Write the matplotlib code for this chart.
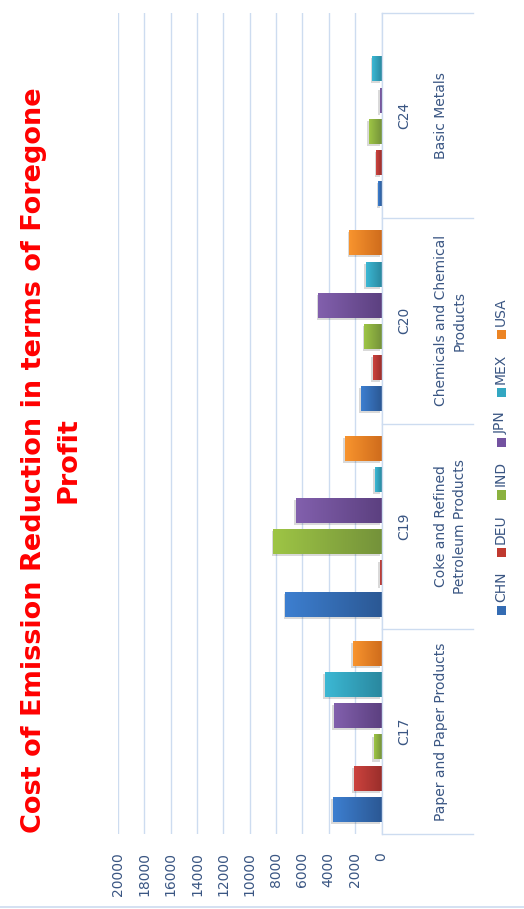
import numpy as np
import matplotlib.pyplot as plt
from matplotlib import patheffects as pe
from matplotlib.colors import LinearSegmentedColormap
from matplotlib.patches import Rectangle
from matplotlib.lines import Line2D
from matplotlib.transforms import blended_transform_factory

# ---------------------------------------------------------------- data ----#

sectors = ['C17', 'C19', 'C20', 'C24']
sector_names = ['Paper and Paper Products',
                'Coke and Refined\nPetroleum Products',
                'Chemicals and Chemical\nProducts',
                'Basic Metals']
countries = ['CHN', 'DEU', 'IND', 'JPN', 'MEX', 'USA']
chn = [3700, 7300, 1550, 250]
deu = [2100, 150, 650, 400]
ind = [600, 8200, 1300, 950]
jpn = [3600, 6500, 4800, 150]
mex = [4300, 500, 1200, 700]
usa = [2200, 2800, 2450, 0]
ticks = np.arange(0, 20001, 2000)

series = [chn, deu, ind, jpn, mex, usa]
light = ['#3d7fd0', '#cc433e', '#9ec545', '#8260ad', '#3cb8d4', '#f8942e']
dark = ['#2b5894', '#9a2e2b', '#74923a', '#5c4080', '#2a889f', '#cf6c1c']
mid = ['#346cb3', '#c0392f', '#8bb23f', '#7352a0', '#33a7c2', '#ec8424']

gridc = '#cddcf0'
labelc = '#3a5683'

# ---------------------------------------------------------------- figure --#

fig = plt.figure(figsize=(5.24, 9.09), dpi=100)
W, H = 524.0, 909.0
ax = fig.add_axes([118 / W, 1 - 834 / H, (381.5 - 118) / W, (834 - 13) / H])

slot, bh = 0.152, 0.122
ypos = np.arange(len(sectors))
grad = np.linspace(0, 1, 128).reshape(1, -1)

for j, vals in enumerate(series):
    yy = ypos + (j - 2.5) * slot
    bars = ax.barh(yy, vals, height=bh, color=dark[j], zorder=2, lw=0)
    cmap = LinearSegmentedColormap.from_list('g%d' % j, [light[j], dark[j]])
    for b, v, y in zip(bars, vals, yy):
        b.set_path_effects([pe.SimplePatchShadow(offset=(-1.2, -1.5),
                            shadow_rgbFace='k', alpha=0.15), pe.Normal()])
        if v <= 0:
            continue
        im = ax.imshow(grad, cmap=cmap, extent=(v, 0, y - bh / 2, y + bh / 2),
                       aspect='auto', interpolation='bilinear', zorder=2.5)
        im.set_clip_path(b)

ax.set_xlim(20000, 0)
ax.set_ylim(-0.5, len(sectors) - 0.5)
ax.set_xticks(ticks)
ax.set_yticks([])
ax.tick_params(axis='x', length=0, pad=13, labelsize=10,
               labelcolor=labelc, labelrotation=90)
ax.grid(axis='x', color=gridc, lw=1)
ax.set_axisbelow(True)
for s in ['top', 'bottom', 'left']:
    ax.spines[s].set_visible(False)
ax.spines['right'].set_color(gridc)
ax.spines['right'].set_linewidth(1)

# category axis: separators and two-level labels
trans = blended_transform_factory(ax.transAxes, ax.transData)
for b in np.arange(-0.5, len(sectors)):
    ax.plot([1.0, (473 - 118) / (381.5 - 118)], [b, b], transform=trans,
            clip_on=False, color=gridc, lw=1)
for i in range(len(sectors)):
    ax.text((404 - 118) / (381.5 - 118), i, sectors[i], transform=trans,
            rotation=90, ha='center', va='center', fontsize=10, color=labelc)
    ax.text((434 - 118) / (381.5 - 118), i, sector_names[i], transform=trans,
            rotation=90, ha='left', va='center', multialignment='center',
            fontsize=10, color=labelc, linespacing=1.45)

# title
fig.text(51 / W, 1 - 460 / H,
         'Cost of Emission Reduction in terms of Foregone\nProfit',
         rotation=90, ha='center', va='center', multialignment='center',
         color='#ff0000', fontweight='bold', fontsize=19.5, linespacing=1.4)

# legend, laid out along the page from the bottom up
fig.canvas.draw()
renderer = fig.canvas.get_renderer()
sq = 9.5
y0 = H - 615
for j, name in enumerate(countries):
    fig.add_artist(Rectangle((496.5 / W, y0 / H), sq / W, sq / H,
                             transform=fig.transFigure, color=mid[j], lw=0))
    t = fig.text(501 / W, (y0 + sq + 4) / H, name, rotation=90,
                 ha='center', va='bottom', fontsize=10, color=labelc)
    ext = t.get_window_extent(renderer)
    y0 = ext.y1 + 14

# outer frame edge
fig.add_artist(Line2D([0, 1], [1 - 907 / H, 1 - 907 / H],
                      transform=fig.transFigure, color=gridc, lw=1.2))

fig.savefig('out.png', dpi=100)
